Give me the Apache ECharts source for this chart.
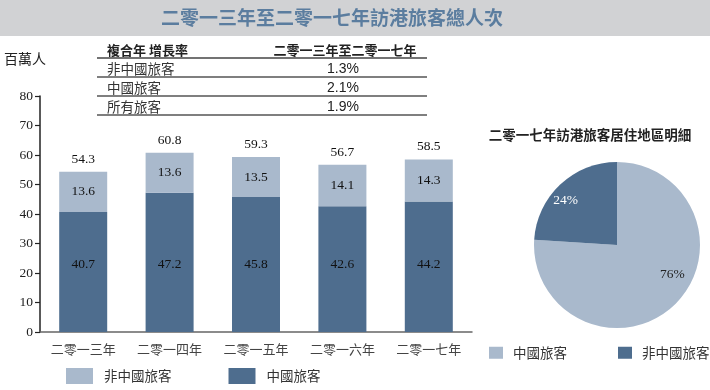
<!DOCTYPE html>
<html><head><meta charset="utf-8">
<script src="https://cdn.jsdelivr.net/npm/echarts@6/dist/echarts.min.js"></script>
<style>html,body{margin:0;padding:0;background:#fff}#c{width:710px;height:390px}</style>
</head><body><div id="c"></div>
<script>
const categories = ['二零一三年','二零一四年','二零一五年','二零一六年','二零一七年'];
const chinaVisitors = [40.7, 47.2, 45.8, 42.6, 44.2];
const nonChinaVisitors = [13.6, 13.6, 13.5, 14.1, 14.3];
const totalVisitors = [54.3, 60.8, 59.3, 56.7, 58.5];
const yTicks = [0,10,20,30,40,50,60,70,80];
const tableHeader = ['複合年 增長率', '二零一三年至二零一七年'];
const tableRows = ['非中國旅客','中國旅客','所有旅客'];
const tableValues = ['1.3%','2.1%','1.9%'];
const pieNames = ['中國旅客','非中國旅客'];
const pieValues = [76, 24];
const titleText = '二零一三年至二零一七年訪港旅客總人次';
const pieTitle = '二零一七年訪港旅客居住地區明細';
const unitText = '百萬人';

const LIGHT = '#a9b9cc', DARK = '#4e6d8e';
const CJK = '"Noto Sans CJK TC","Noto Sans CJK SC",sans-serif';
const SERIF = '"Liberation Serif","DejaVu Serif",serif';

const graphics = [
  {type:'rect', shape:{x:0,y:0,width:710,height:36}, style:{fill:'#d1d2d4'}, z:0},
  {type:'text', x:332, y:18, style:{text:titleText, fill:'#5b7d9f', font:'bold 19px '+CJK, textAlign:'center', textVerticalAlign:'middle'}},
  {type:'text', x:4, y:59, style:{text:unitText, fill:'#222', font:'14px '+CJK, textVerticalAlign:'middle'}},
  {type:'text', x:107, y:50, style:{text:tableHeader[0], fill:'#222', font:'bold 13px '+CJK, textVerticalAlign:'middle'}},
  {type:'text', x:345, y:50, style:{text:tableHeader[1], fill:'#222', font:'bold 13px '+CJK, textAlign:'center', textVerticalAlign:'middle'}},
  {type:'line', shape:{x1:97,y1:58,x2:427,y2:58}, style:{stroke:'#444', lineWidth:1.5}},
  {type:'text', x:590, y:135, style:{text:pieTitle, fill:'#222', font:'bold 13.5px '+CJK, textAlign:'center', textVerticalAlign:'middle'}}
];
const rowY = [69, 88, 107];
const lineY = [77, 96, 115];
tableRows.forEach((r,i)=>{
  graphics.push({type:'text', x:107, y:rowY[i], style:{text:r, fill:'#333', font:'13.5px '+CJK, textVerticalAlign:'middle'}});
  graphics.push({type:'text', x:343, y:rowY[i], style:{text:tableValues[i], fill:'#222', font:'14px "Liberation Sans",Arial,sans-serif', textAlign:'center', textVerticalAlign:'middle'}});
  graphics.push({type:'line', shape:{x1:97,y1:lineY[i],x2:427,y2:lineY[i]}, style:{stroke:'#555', lineWidth:1.5}});
});

const chart = echarts.init(document.getElementById('c'));
chart.setOption({
  animation:false,
  graphic: graphics,
  grid:{left:40, right:238, top:96, bottom:58},
  legend:[{
    left:66, top:368, itemWidth:27, itemHeight:16, itemGap:57, padding:0,
    data:[{name:'非中國旅客', itemStyle:{color:LIGHT}},{name:'中國旅客', itemStyle:{color:DARK}}],
    textStyle:{fontFamily:CJK, fontSize:13.5, color:'#333', padding:[0,0,0,6]},
    icon:'rect', selectedMode:false
  },{
    left:489, top:346, width:221, itemWidth:14, itemHeight:12, itemGap:51, padding:0,
    data:[{name:'中國旅客', itemStyle:{color:LIGHT}},{name:'非中國旅客', itemStyle:{color:DARK}}],
    textStyle:{fontFamily:CJK, fontSize:13.5, color:'#333', padding:[0,0,0,5]},
    icon:'rect', selectedMode:false
  }],
  xAxis:{
    type:'category', data:categories,
    axisLine:{lineStyle:{color:'#666', width:1.5}},
    axisTick:{show:false},
    axisLabel:{fontFamily:CJK, fontSize:13, color:'#444', margin:11}
  },
  yAxis:{
    type:'value', min:0, max:80, interval:10,
    axisLine:{show:true, lineStyle:{color:'#222', width:1.5}},
    axisTick:{show:true, length:5, lineStyle:{color:'#222', width:1.2}},
    splitLine:{show:false},
    axisLabel:{fontFamily:SERIF, fontSize:13.5, color:'#222', margin:7,
      formatter:v=>yTicks.indexOf(v)>=0?String(v):''}
  },
  series:[
    {name:'中國旅客', type:'bar', stack:'t', data:chinaVisitors, barWidth:48,
     itemStyle:{color:DARK},
     label:{show:true, position:'insideBottom', distance:61, fontFamily:SERIF, fontSize:13.5, color:'#111'}},
    {name:'非中國旅客', type:'bar', stack:'t', data:nonChinaVisitors, barWidth:48,
     itemStyle:{color:LIGHT},
     label:{show:true, position:'inside', fontFamily:SERIF, fontSize:13.5, color:'#111'}},
    {name:'總計', type:'line', data:totalVisitors, symbol:'circle', symbolSize:1, showSymbol:true,
     itemStyle:{color:'rgba(0,0,0,0)'}, lineStyle:{width:0, color:'rgba(0,0,0,0)'},
     label:{show:true, position:'top', distance:5, fontFamily:SERIF, fontSize:13.5, color:'#111'},
     silent:true, tooltip:{show:false}},
    {name:'pie', type:'pie', center:[617,245], radius:83, startAngle:90, clockwise:true,
     labelLine:{show:false}, silent:true,
     data:[
       {name:pieNames[0], value:pieValues[0], itemStyle:{color:LIGHT},
        label:{show:true, position:'inside', offset:[25,-3], formatter:'{c}%', fontFamily:SERIF, fontSize:13.5, color:'#222'}},
       {name:pieNames[1], value:pieValues[1], itemStyle:{color:DARK},
        label:{show:true, position:'inside', offset:[-21,-12], formatter:'{c}%', fontFamily:SERIF, fontSize:13.5, color:'#fff'}}
     ]}
  ]
});
</script></body></html>
